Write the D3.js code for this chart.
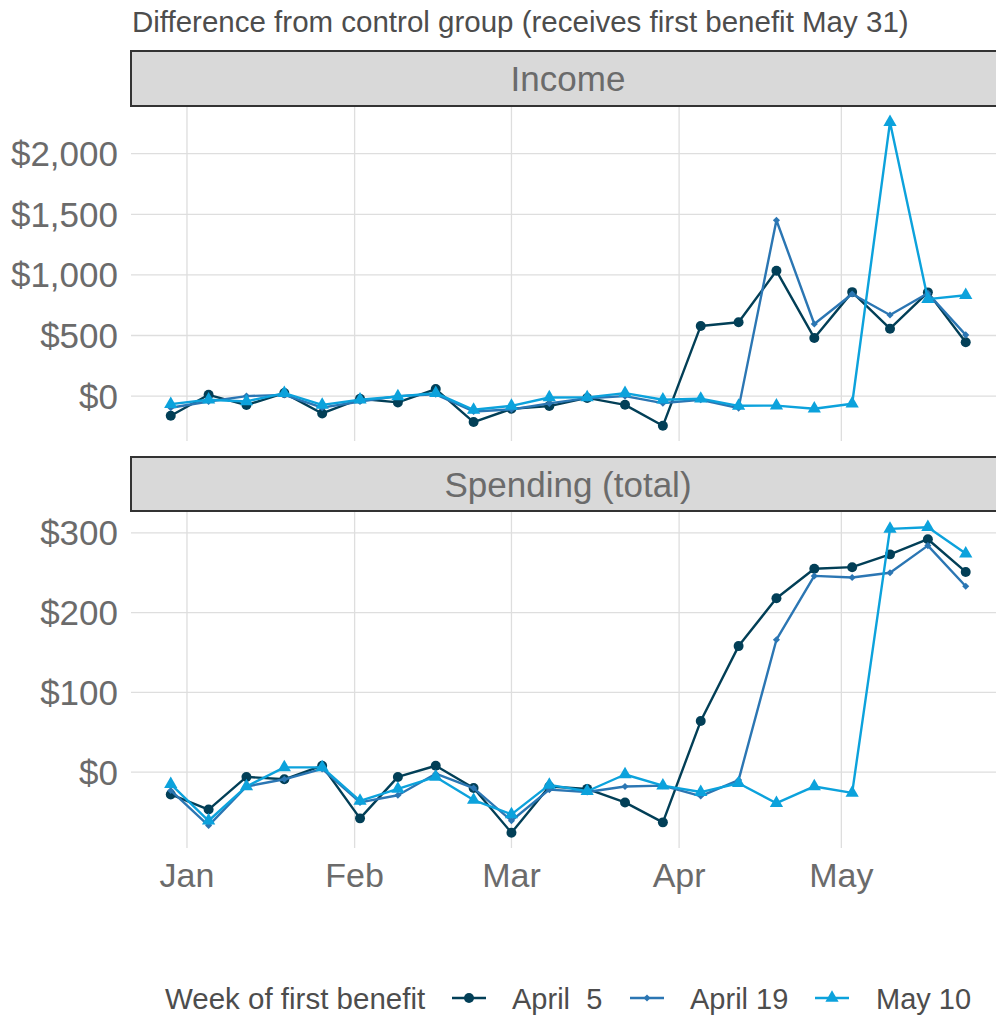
<!DOCTYPE html>
<html>
<head>
<meta charset="utf-8">
<script src="https://cdn.jsdelivr.net/npm/d3@7"></script>
<style>
  body { margin: 0; background: #fff; }
  text { font-family: "Liberation Sans", Arial, sans-serif; }
</style>
</head>
<body>
<svg id="chart" width="996" height="1016"></svg>
<script>
// weeks (Sundays) from Dec 29 2019 to May 24 2020
const weeks = ["2019-12-29", "2020-01-05", "2020-01-12", "2020-01-19", "2020-01-26",
  "2020-02-02", "2020-02-09", "2020-02-16", "2020-02-23", "2020-03-01", "2020-03-08",
  "2020-03-15", "2020-03-22", "2020-03-29", "2020-04-05", "2020-04-12", "2020-04-19",
  "2020-04-26", "2020-05-03", "2020-05-10", "2020-05-17", "2020-05-24"];

const seriesNames = ["April  5", "April 19", "May 10"];
const seriesColors = ["#023f57", "#2b76b3", "#0ca2dc"];
const seriesShapes = ["circle", "diamond", "triangle"];

const incomeApr5 = [-162, 11, -74, 25, -143, -22, -52, 58, -214, -105, -82,
  -15, -72, -245, 579, 609, 1034, 480, 858, 556, 856, 444];
const incomeApr19 = [-96, -44, 0, 10, -95, -44, 0, 15, -127, -110, -60,
  -17, 0, -58, -30, -99, 1451, 595, 842, 669, 848, 505];
const incomeMay10 = [-66, -30, -44, 25, -72, -30, -3, 25, -113, -80, -11,
  -10, 25, -30, -22, -80, -78, -104, -63, 2260, 800, 832];

const spendApr5 = [-28, -47, -6, -9, 8, -58, -6, 8, -20, -76, -18,
  -21, -38, -63, 64, 158, 218, 255, 257, 273, 292, 251];
const spendApr19 = [-23, -67, -18, -9, 4, -38, -29, -2, -20, -61, -22,
  -25, -18, -17, -30, -10, 166, 246, 244, 250, 284, 233];
const spendMay10 = [-15, -61, -18, 6, 6, -36, -21, -6, -35, -53, -16,
  -24, -3, -17, -25, -14, -39, -18, -26, 305, 307, 274];

const incomeTicks = [0, 500, 1000, 1500, 2000];
const spendTicks = [0, 100, 200, 300];
const monthTicks = ["2020-01-01", "2020-02-01", "2020-03-01", "2020-04-01", "2020-05-01"];

const panels = [
  {title: "Income", series: [incomeApr5, incomeApr19, incomeMay10], ticks: incomeTicks,
   stripTop: 50, top: 107, bottom: 441},
  {title: "Spending (total)", series: [spendApr5, spendApr19, spendMay10], ticks: spendTicks,
   stripTop: 456, top: 512, bottom: 848}
];

const svg = d3.select("#chart");
const parse = d3.timeParse("%Y-%m-%d");
const dates = weeks.map(parse);
const left = 131;
const dayMs = 864e5;

// ggplot style 5% expansion on each side
const span = dates[dates.length - 1] - dates[0];
const x = d3.scaleTime()
  .domain([new Date(+dates[0] - span * 0.05), new Date(+dates[dates.length - 1] + span * 0.05)])
  .range([left, left + (span * 1.1 / dayMs) * 5.408]);

const symbolType = {circle: d3.symbolCircle, diamond: d3.symbolDiamond2, triangle: d3.symbolTriangle};
const symbolSize = {circle: 78, diamond: 32, triangle: 76};

const gray = "#dedede";
const textGray = "#6b6b6b";

// title
svg.append("text")
  .attr("x", 132).attr("y", 32)
  .attr("font-size", 29.5).attr("fill", "#4d4d4d")
  .text("Difference from control group (receives first benefit May 31)");

panels.forEach(p => {
  const all = p.series.flat();
  const lo = d3.min(all), hi = d3.max(all), pad = (hi - lo) * 0.05;
  const y = d3.scaleLinear().domain([lo - pad, hi + pad]).range([p.bottom, p.top]);

  // strip
  svg.append("rect")
    .attr("x", left).attr("y", p.stripTop + 1)
    .attr("width", 900).attr("height", p.top - p.stripTop - 2)
    .attr("fill", "#d9d9d9").attr("stroke", "#333").attr("stroke-width", 2);
  svg.append("text")
    .attr("x", 568).attr("y", (p.stripTop + p.top) / 2 + 12.5)
    .attr("text-anchor", "middle").attr("font-size", 35).attr("fill", textGray)
    .text(p.title);

  const g = svg.append("g");

  // grid
  g.selectAll(".hg").data(p.ticks).enter().append("line")
    .attr("x1", left).attr("x2", 996)
    .attr("y1", d => y(d)).attr("y2", d => y(d))
    .attr("stroke", gray).attr("stroke-width", 1.3);
  g.selectAll(".vg").data(monthTicks.map(parse)).enter().append("line")
    .attr("x1", d => x(d)).attr("x2", d => x(d))
    .attr("y1", p.top).attr("y2", p.bottom)
    .attr("stroke", gray).attr("stroke-width", 1.3);

  // y labels
  g.selectAll(".yl").data(p.ticks).enter().append("text")
    .attr("x", 118).attr("y", d => y(d) + 12.5)
    .attr("text-anchor", "end").attr("font-size", 35).attr("fill", textGray)
    .text(d => "$" + d3.format(",")(d));

  // lines and points
  const line = d3.line().x((d, i) => x(dates[i])).y(d => y(d));
  p.series.forEach((s, k) => {
    g.append("path").datum(s)
      .attr("d", line).attr("fill", "none")
      .attr("stroke", seriesColors[k]).attr("stroke-width", 2.4)
      .attr("stroke-linejoin", "round");
    g.selectAll(".pt" + k).data(s).enter().append("path")
      .attr("transform", (d, i) => `translate(${x(dates[i])},${y(d)})`)
      .attr("d", d3.symbol().type(symbolType[seriesShapes[k]]).size(symbolSize[seriesShapes[k]]))
      .attr("fill", seriesColors[k]);
  });
});

// x axis labels
svg.selectAll(".xl").data(monthTicks.map(parse)).enter().append("text")
  .attr("x", d => x(d)).attr("y", 887)
  .attr("text-anchor", "middle").attr("font-size", 34).attr("fill", textGray)
  .text(d => d3.timeFormat("%b")(d));

// legend
const ly = 998;
svg.append("text")
  .attr("x", 165).attr("y", ly + 10.5)
  .attr("font-size", 29.5).attr("fill", "#4d4d4d")
  .text("Week of first benefit");
const keyX = [452, 630, 815];
const labelX = [512, 690, 876];
seriesNames.forEach((n, k) => {
  svg.append("line")
    .attr("x1", keyX[k]).attr("x2", keyX[k] + 34)
    .attr("y1", ly).attr("y2", ly)
    .attr("stroke", seriesColors[k]).attr("stroke-width", 2.4);
  svg.append("path")
    .attr("transform", `translate(${keyX[k] + 17},${ly})`)
    .attr("d", d3.symbol().type(symbolType[seriesShapes[k]]).size(symbolSize[seriesShapes[k]]))
    .attr("fill", seriesColors[k]);
  svg.append("text")
    .attr("x", labelX[k]).attr("y", ly + 10.5)
    .attr("font-size", 29).attr("fill", "#4d4d4d")
    .attr("xml:space", "preserve").style("white-space", "pre")
    .text(n);
});
</script>
</body>
</html>
